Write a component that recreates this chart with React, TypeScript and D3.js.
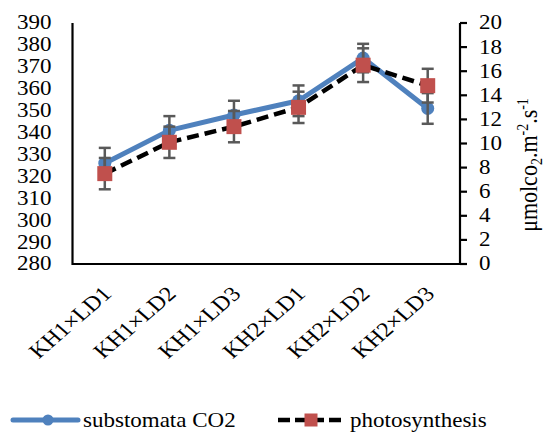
import React from "react";
import * as d3 from "d3";

const categories = ["KH1×LD1", "KH1×LD2", "KH1×LD3", "KH2×LD1", "KH2×LD2", "KH2×LD3"];
const co2Values = [326, 341, 348, 354.5, 374, 351];
const co2Errors = [7, 6.5, 6.5, 7, 6.5, 7];
const photoValues = [7.5, 10.1, 11.4, 13, 16.5, 14.8];
const photoErrors = [1.3, 1.3, 1.3, 1.3, 1.4, 1.4];
const leftTicks = d3.range(280, 391, 10);
const rightTicks = d3.range(0, 21, 2);

const size = {
  width: 546,
  height: 432,
  left: 72.5,
  right: 460,
  top: 23,
  bottom: 264,
};

const font = '"Liberation Serif", "Times New Roman", serif';
const sx = 1.15; // the picture's text is a bit stretched sideways
const blue = "#4F81BD";
const red = "#C0504D";
const errColor = "#595959";

const x = d3.scaleBand<string>().domain(categories).range([size.left, size.right]);
const yLeft = d3.scaleLinear().domain([280, 390]).range([size.bottom, size.top]);
const yRight = d3.scaleLinear().domain([0, 20]).range([size.bottom, size.top]);
const cx = (c: string) => (x(c) as number) + x.bandwidth() / 2;

const ErrorBars = ({ values, errors, y }: any) => (
  <g stroke={errColor} strokeWidth={2.5}>
    {categories.map((c, i) => {
      const px = cx(c);
      const y1 = y(values[i] + errors[i]);
      const y2 = y(values[i] - errors[i]);
      return (
        <g key={i}>
          <line x1={px} x2={px} y1={y1} y2={y2} />
          <line x1={px - 6} x2={px + 6} y1={y1} y2={y1} />
          <line x1={px - 6} x2={px + 6} y1={y2} y2={y2} />
        </g>
      );
    })}
  </g>
);

const App = () => {
  const co2Line = d3
    .line<number>()
    .x((d, i) => cx(categories[i]))
    .y((d) => yLeft(d));
  const photoLine = d3
    .line<number>()
    .x((d, i) => cx(categories[i]))
    .y((d) => yRight(d));

  return (
    <svg
      width={size.width}
      height={size.height}
      style={{ position: "absolute", left: 0, top: 0, background: "#fff" }}
      fontFamily={font}
    >
      {/* axes */}
      <g stroke="#000" strokeWidth={2.2} fill="none">
        <line x1={size.left} x2={size.left} y1={size.top} y2={size.bottom + 1} />
        <line x1={size.right} x2={size.right} y1={size.top} y2={size.bottom + 1} />
        <line x1={size.left} x2={size.right} y1={size.bottom} y2={size.bottom} />
        {rightTicks.map((t) => (
          <line key={t} x1={size.right} x2={size.right + 7} y1={yRight(t)} y2={yRight(t)} />
        ))}
      </g>

      {leftTicks.map((t) => (
        <text
          key={t}
          transform={`translate(51.5 ${yLeft(t)}) scale(${sx} 1)`}
          textAnchor="end"
          dominantBaseline="central"
          fontSize={20}
        >
          {t}
        </text>
      ))}
      {rightTicks.map((t) => (
        <text
          key={t}
          transform={`translate(479 ${yRight(t)}) scale(${sx} 1)`}
          dominantBaseline="central"
          fontSize={20}
        >
          {t}
        </text>
      ))}

      {categories.map((c) => (
        <text
          key={c}
          transform={`translate(${cx(c) + 8} ${size.bottom + 31}) scale(${sx} 1) rotate(-45)`}
          textAnchor="end"
          fontSize={21}
        >
          {c}
        </text>
      ))}

      <text
        transform={`translate(537 165) scale(${sx} 1) rotate(-90)`}
        textAnchor="middle"
        fontSize={22}
      >
        μmolco
        <tspan fontSize={14} dy={4}>2</tspan>
        <tspan dy={-4}>.m</tspan>
        <tspan fontSize={14} dy={-8}>-2</tspan>
        <tspan dy={8}>.s</tspan>
        <tspan fontSize={14} dy={-8}>-1</tspan>
      </text>

      {/* series */}
      <path d={co2Line(co2Values) as string} fill="none" stroke={blue} strokeWidth={5} strokeLinejoin="round" />
      <path
        d={photoLine(photoValues) as string}
        fill="none"
        stroke="#000"
        strokeWidth={4.5}
        strokeDasharray="12 6"
      />
      {co2Values.map((v, i) => (
        <circle key={i} cx={cx(categories[i])} cy={yLeft(v)} r={6.5} fill={blue} />
      ))}
      <ErrorBars values={co2Values} errors={co2Errors} y={yLeft} />
      <ErrorBars values={photoValues} errors={photoErrors} y={yRight} />
      {photoValues.map((v, i) => (
        <rect key={i} x={cx(categories[i]) - 7.5} y={yRight(v) - 7.5} width={15} height={15} fill={red} />
      ))}

      {/* legend */}
      <g>
        <line x1={13} x2={78} y1={420} y2={420} stroke={blue} strokeWidth={5} strokeLinecap="round" />
        <circle cx={48} cy={420} r={5.5} fill={blue} />
        <text transform={`translate(83 427) scale(${sx} 1)`} fontSize={20}>
          substomata CO2
        </text>
        <line x1={278} x2={344} y1={420} y2={420} stroke="#000" strokeWidth={4.5} strokeDasharray="12 5" />
        <rect x={304.5} y={413.5} width={13} height={13} fill={red} />
        <text transform={`translate(350 427) scale(${sx} 1)`} fontSize={20}>
          photosynthesis
        </text>
      </g>
    </svg>
  );
};

export default App;
